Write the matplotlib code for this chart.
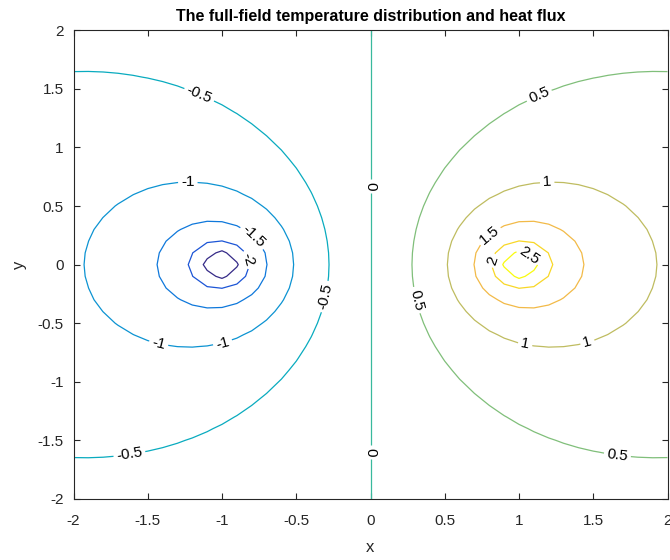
import numpy as np
import matplotlib
matplotlib.use("Agg")
import matplotlib.pyplot as plt
from matplotlib.colors import LinearSegmentedColormap

# ---- data / model parameters ----
source_x = [-1.0, 1.0]        # heat sink / source positions on the x axis
source_y = [0.0, 0.0]
source_q = [-1.0, 1.0]        # sign of each source
strength = 0.87               # line-source strength factor
grid_x = np.linspace(-2, 2, 41)
grid_y = np.linspace(-2, 2, 41)
r_floor = 0.05                # regularisation at the singular nodes
levels = [-2.5, -2.0, -1.5, -1.0, -0.5, 0.0, 0.5, 1.0, 1.5, 2.0, 2.5]
xticks = [-2, -1.5, -1, -0.5, 0, 0.5, 1, 1.5, 2]
yticks = [-2, -1.5, -1, -0.5, 0, 0.5, 1, 1.5, 2]
label_pos = [(-1.15, 1.46), (-0.28, -0.28), (-1.62, -1.65),
             (-1.23, 0.70), (-1.43, -0.69), (-0.99, -0.69),
             (-0.81, 0.21), (-0.85, 0.03),
             (0.0, 0.67), (0.0, -1.60),
             (1.13, 1.46), (0.32, -0.30), (1.66, -1.65),
             (1.19, 0.70), (1.04, -0.69), (1.46, -0.66),
             (0.81, 0.24), (0.85, 0.02), (1.05, 0.05)]

# parula-like colormap (MATLAB)
parula_anchor = [
    [0.2081, 0.1663, 0.5292], [0.2123, 0.2138, 0.6270], [0.1959, 0.2645, 0.7279],
    [0.1253, 0.3242, 0.8303], [0.0117, 0.3875, 0.8820], [0.0165, 0.4266, 0.8786],
    [0.0498, 0.4586, 0.8641], [0.0723, 0.4887, 0.8467], [0.0793, 0.5200, 0.8312],
    [0.0641, 0.5570, 0.8240], [0.0343, 0.5966, 0.8199], [0.0239, 0.6287, 0.8038],
    [0.0228, 0.6535, 0.7768], [0.0384, 0.6743, 0.7436], [0.0843, 0.6928, 0.7062],
    [0.1453, 0.7098, 0.6646], [0.2178, 0.7250, 0.6193], [0.3022, 0.7376, 0.5712],
    [0.3953, 0.7459, 0.5244], [0.4871, 0.7491, 0.4840], [0.5709, 0.7485, 0.4494],
    [0.6473, 0.7456, 0.4188], [0.7184, 0.7411, 0.3905], [0.7858, 0.7356, 0.3633],
    [0.8507, 0.7299, 0.3360], [0.9139, 0.7258, 0.3063], [0.9739, 0.7314, 0.2666],
    [0.9990, 0.7653, 0.2164], [0.9880, 0.8066, 0.1794], [0.9697, 0.8481, 0.1475],
    [0.9589, 0.8949, 0.1132], [0.9661, 0.9514, 0.0755], [0.9763, 0.9831, 0.0538]]
parula = LinearSegmentedColormap.from_list("parula", parula_anchor, N=256)

# ---- field ----
X, Y = np.meshgrid(grid_x, grid_y)
T = np.zeros_like(X)
for sx, sy, q in zip(source_x, source_y, source_q):
    r = np.maximum(np.hypot(X - sx, Y - sy), r_floor)
    T += -strength * q * np.log(r)

plt.rcParams['font.family'] = ['Liberation Sans', 'DejaVu Sans']
fig = plt.figure(figsize=(6.7, 5.6), dpi=100)
ax = fig.add_axes([73.5 / 670, 0.109, 594 / 670, 0.837])

cs = ax.contour(X, Y, T, levels=levels, cmap=parula, vmin=-2.5, vmax=2.5,
                linewidths=0.9)
ax.clabel(cs, inline=True, fontsize=11, manual=label_pos, inline_spacing=3,
          colors='black', fmt=lambda v: f"{v:g}")

ax.set_xlim(-2, 2)
ax.set_ylim(-2, 2)
ax.set_xticks(xticks)
ax.set_yticks(yticks)
ax.set_xticklabels([f"{t:g}" for t in xticks])
ax.set_yticklabels([f"{t:g}" for t in yticks])
axc = '#262626'
for s in ax.spines.values():
    s.set_color(axc)
    s.set_linewidth(0.8)
ax.tick_params(direction='in', top=True, right=True, length=4, width=0.8,
               colors=axc, labelsize=11)
ax.tick_params(axis='x', pad=10.5)
ax.tick_params(axis='y', pad=7)
ax.set_xlabel('x', fontsize=12, color=axc, labelpad=9)
ax.set_ylabel('y', fontsize=12, color=axc, labelpad=8)
ax.set_title('The full-field temperature distribution and heat flux',
             fontsize=11.5, fontweight='bold', color='black', pad=7)

fig.savefig('out.png', dpi=100)
